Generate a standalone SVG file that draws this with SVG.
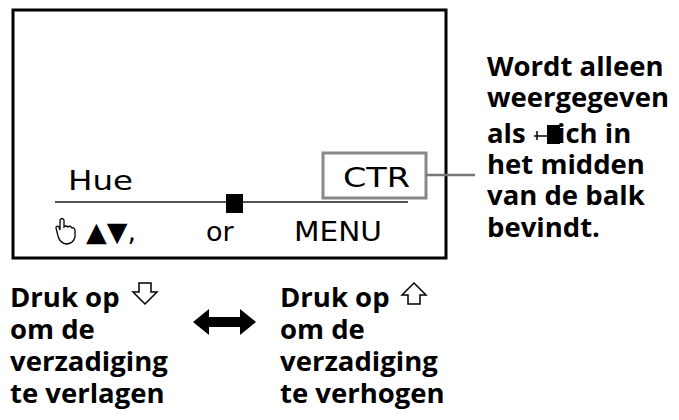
<svg xmlns="http://www.w3.org/2000/svg" width="679" height="420" viewBox="0 0 679 420">
<style>
.b{font-family:"Open Sans","DejaVu Sans",sans-serif;font-weight:bold;font-size:27.5px;fill:#000}
.s{font-family:"DejaVu Sans",sans-serif;font-size:27px;fill:#000}
</style>
<rect width="679" height="420" fill="#fff"/>
<g id="screen">
<rect x="13" y="10" width="433" height="248" fill="none" stroke="#000" stroke-width="3"/>
<text class="s" x="68" y="190" textLength="65" lengthAdjust="spacingAndGlyphs">Hue</text>
<line x1="55" y1="202" x2="408" y2="202" stroke="#555" stroke-width="2"/>
<rect x="226" y="194" width="17" height="19" fill="#000"/>
<path d="M58 236 L56 228 Q56 225 59 227 L60 230 L60 220 Q62 217 64 220 L64 227 Q66 225 68 227 Q70 225 72 228 Q74 227 75 230 L75 237 Q73 244 66 244 Q60 243 58 236 Z" fill="#fff" stroke="#000" stroke-width="1.3"/>
<text class="s" x="86" y="241" font-size="23">▲▼,</text>
<text class="s" x="206" y="241">or</text>
<text class="s" x="294" y="241" textLength="88" lengthAdjust="spacingAndGlyphs">MENU</text>
</g>
<g id="ctr">
<rect x="323" y="153" width="103" height="45" fill="none" stroke="#888" stroke-width="3"/>
<text class="s" x="343" y="187" textLength="67" lengthAdjust="spacingAndGlyphs">CTR</text>
</g>
<g id="connectors">
<line x1="426" y1="175" x2="475" y2="175" stroke="#777" stroke-width="2.5"/>
<path d="M193 322 L209 309 L209 317 L240 317 L240 309 L256 322 L240 335 L240 327 L209 327 L209 335 Z" fill="#000"/>
</g>
<g id="note">
<text class="b" x="487" y="76">Wordt alleen</text>
<text class="b" x="487" y="107">weergegeven</text>
<text class="b" x="487" y="143">als</text>
<line x1="534" y1="136" x2="550" y2="136" stroke="#000" stroke-width="1.5"/>
<line x1="537" y1="131" x2="537" y2="140" stroke="#000" stroke-width="1.5"/>
<rect x="547" y="125" width="13" height="19" fill="#000"/>
<text class="b" x="557" y="143">ich in</text>
<text class="b" x="487" y="174">het midden</text>
<text class="b" x="487" y="205">van de balk</text>
<text class="b" x="487" y="237">bevindt.</text>
</g>
<g id="left">
<text class="b" x="10" y="307">Druk op</text>
<path d="M139 283 L139 292 L133 292 L145 304 L157 292 L151 292 L151 283 Z" fill="#fff" stroke="#000" stroke-width="1.5"/>
<text class="b" x="10" y="339">om de</text>
<text class="b" x="10" y="371">verzadiging</text>
<text class="b" x="10" y="403">te verlagen</text>
</g>
<g id="right">
<text class="b" x="280" y="307">Druk op</text>
<path d="M408 304 L408 295 L402 295 L414 283 L426 295 L420 295 L420 304 Z" fill="#fff" stroke="#000" stroke-width="1.5"/>
<text class="b" x="280" y="339">om de</text>
<text class="b" x="280" y="371">verzadiging</text>
<text class="b" x="280" y="403">te verhogen</text>
</g>
</svg>
